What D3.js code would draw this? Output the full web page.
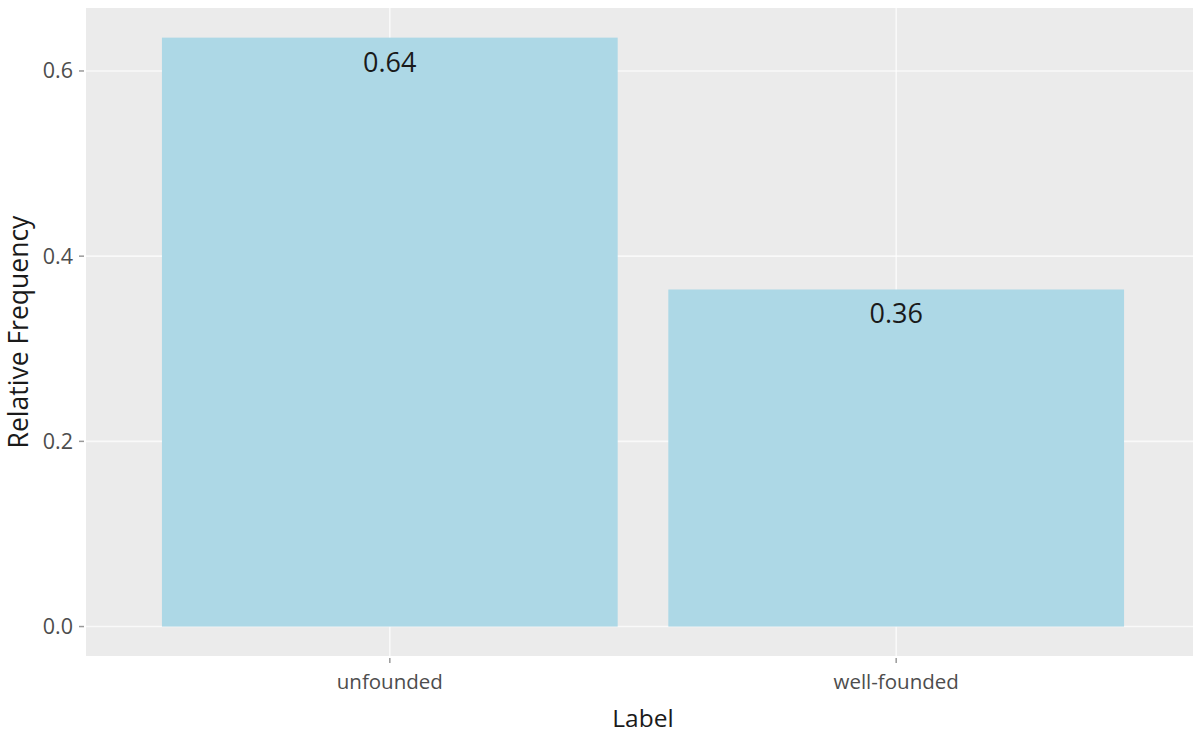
<!DOCTYPE html>
<html>
<head>
<meta charset="utf-8">
<script src="https://cdn.jsdelivr.net/npm/d3@7"></script>
<style>
  html, body { margin: 0; padding: 0; background: #fff; }
  svg { display: block; font-family: "Open Sans", "DejaVu Sans", sans-serif; }
</style>
</head>
<body>
<svg id="chart" width="1193" height="733"></svg>
<script>
const categories = ["unfounded", "well-founded"];
const values = [0.636, 0.364];
const valueLabels = ["0.64", "0.36"];
const yTicks = [0.0, 0.2, 0.4, 0.6];
const yTickLabels = ["0.0", "0.2", "0.4", "0.6"];

const svg = d3.select("#chart");
const panel = { left: 86, right: 1200, top: 8, bottom: 656 };

const x = d3.scaleLinear().domain([0.4, 2.6]).range([panel.left, panel.right]);
const y = d3.scaleLinear().domain([-0.0318, 0.668]).range([panel.bottom, panel.top]);

// panel background
svg.append("rect")
  .attr("x", panel.left).attr("y", panel.top)
  .attr("width", panel.right - panel.left).attr("height", panel.bottom - panel.top)
  .attr("fill", "#EBEBEB");

// grid
svg.append("g").selectAll("line").data(yTicks).join("line")
  .attr("x1", panel.left).attr("x2", panel.right)
  .attr("y1", d => y(d)).attr("y2", d => y(d))
  .attr("stroke", "#ffffff").attr("stroke-width", 1.6).attr("opacity", 0.7);
svg.append("g").selectAll("line").data(categories).join("line")
  .attr("x1", (d, i) => x(i + 1)).attr("x2", (d, i) => x(i + 1))
  .attr("y1", panel.top).attr("y2", panel.bottom)
  .attr("stroke", "#ffffff").attr("stroke-width", 1.6).attr("opacity", 0.7);

// bars
const bw = 0.9;
svg.append("g").selectAll("rect").data(values).join("rect")
  .attr("x", (d, i) => x(i + 1 - bw / 2))
  .attr("width", (d, i) => x(i + 1 + bw / 2) - x(i + 1 - bw / 2))
  .attr("y", d => y(d))
  .attr("height", d => y(0) - y(d))
  .attr("fill", "#ADD8E6");

// value labels
svg.append("g").selectAll("text").data(values).join("text")
  .attr("x", (d, i) => x(i + 1))
  .attr("y", d => y(d) + 34)
  .attr("text-anchor", "middle")
  .attr("font-size", 27)
  .attr("fill", "#1a1a1a")
  .text((d, i) => valueLabels[i]);

// y axis ticks
const yAxis = svg.append("g");
yAxis.selectAll("line").data(yTicks).join("line")
  .attr("x1", panel.left - 7).attr("x2", panel.left - 2)
  .attr("y1", d => y(d)).attr("y2", d => y(d))
  .attr("stroke", "#999").attr("stroke-width", 1.5);
yAxis.selectAll("text").data(yTicks).join("text")
  .attr("x", panel.left - 13)
  .attr("y", d => y(d))
  .attr("dy", "0.35em")
  .attr("text-anchor", "end")
  .attr("font-size", 21.5)
  .attr("fill", "#4D4D4D")
  .text((d, i) => yTickLabels[i]);

// x axis ticks
const xAxis = svg.append("g");
xAxis.selectAll("line").data(categories).join("line")
  .attr("x1", (d, i) => x(i + 1)).attr("x2", (d, i) => x(i + 1))
  .attr("y1", panel.bottom + 2).attr("y2", panel.bottom + 7)
  .attr("stroke", "#999").attr("stroke-width", 1.5);
xAxis.selectAll("text").data(categories).join("text")
  .attr("x", (d, i) => x(i + 1))
  .attr("y", 689)
  .attr("text-anchor", "middle")
  .attr("font-size", 20.5)
  .attr("fill", "#4D4D4D")
  .text(d => d);

// axis titles
svg.append("text")
  .attr("x", (panel.left + panel.right) / 2)
  .attr("y", 727)
  .attr("text-anchor", "middle")
  .attr("font-size", 24.5)
  .attr("fill", "#1a1a1a")
  .text("Label");

svg.append("text")
  .attr("transform", `translate(28, ${(panel.top + panel.bottom) / 2}) rotate(-90)`)
  .attr("text-anchor", "middle")
  .attr("font-size", 26.5)
  .attr("fill", "#1a1a1a")
  .text("Relative Frequency");
</script>
</body>
</html>
